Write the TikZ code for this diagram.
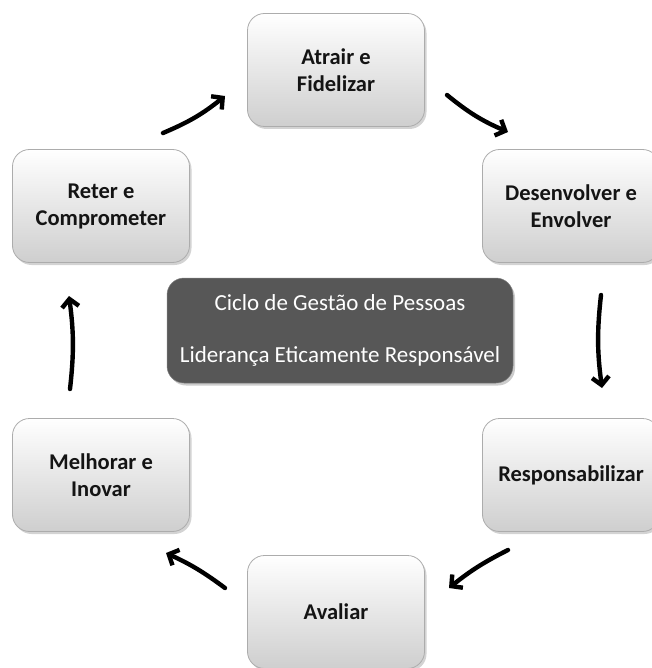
\documentclass[tikz,border=0pt]{standalone}
\usepackage{fontspec}
\setmainfont{Carlito}
\usetikzlibrary{arrows.meta,shadows}

\begin{document}
\begin{tikzpicture}[x=1pt,y=-1pt,
  stage/.style={draw=gray!65, line width=0.8pt, rounded corners=17pt,
    top color=white, bottom color=gray!38,
    minimum width=177pt, minimum height=113pt, align=center,
    font=\bfseries\fontsize{22.5}{27}\selectfont, text=black!92,
    drop shadow={opacity=0.35, shadow xshift=2pt, shadow yshift=-2.5pt}},
  hub/.style={fill=black!66, draw=black!50, line width=0.5pt, rounded corners=17pt,
    minimum width=346pt, minimum height=105pt, align=center,
    font=\fontsize{23}{52}\selectfont, text=white,
    drop shadow={opacity=0.4, shadow xshift=2pt, shadow yshift=-2.5pt}},
  flow/.style={line width=4.4pt, line cap=round,
    -{Straight Barb[length=8pt,width=17pt]}}]
\useasboundingbox (0,0) rectangle (651,668);

% the six stages of the cycle
\node[stage] (atr) at (336,70)  {Atrair e\\Fidelizar};
\node[stage] (des) at (571,206) {Desenvolver e\\Envolver};
\node[stage] (res) at (571,475) {Responsabilizar};
\node[stage] (ava) at (336,612) {Avaliar};
\node[stage] (mel) at (101,475) {Melhorar e\\Inovar};
\node[stage] (ret) at (101,206) {Reter e\\Comprometer};

% central title
\node[hub] (hub) at (340,330.5) {Ciclo de Gestão de Pessoas\\Liderança Eticamente Responsável};

% arrow end points between the stages
\coordinate (a1s) at (163,133); \coordinate (a1e) at (225,96);
\coordinate (a2s) at (447,95);  \coordinate (a2e) at (508,132);
\coordinate (a3s) at (601,295); \coordinate (a3e) at (602,388);
\coordinate (a4s) at (508,550); \coordinate (a4e) at (449,588);
\coordinate (a5s) at (225,588); \coordinate (a5e) at (166,553);
\coordinate (a6s) at (70,389);  \coordinate (a6e) at (69,296);

% clockwise arrows, each bowing slightly outward
\draw[flow] (a1s) to[bend right=8] (a1e);
\draw[flow] (a2s) to[bend right=8] (a2e);
\draw[flow] (a3s) to[bend right=7] (a3e);
\draw[flow] (a4s) to[bend right=6] (a4e);
\draw[flow] (a5s) to[bend right=6] (a5e);
\draw[flow] (a6s) to[bend right=7] (a6e);
\end{tikzpicture}
\end{document}
